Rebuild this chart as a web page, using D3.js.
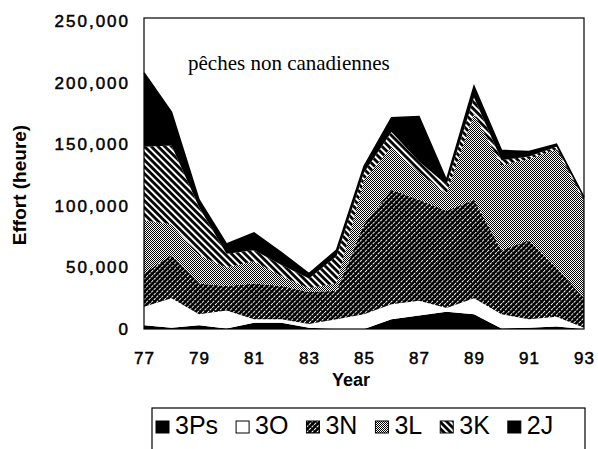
<!DOCTYPE html>
<html>
<head>
<meta charset="utf-8">
<script src="https://cdn.jsdelivr.net/npm/d3@7"></script>
<style>
  body { margin: 0; background: #fff; }
  text { font-family: "Liberation Sans", Arial, sans-serif; }
</style>
</head>
<body>
<div id="chart"></div>
<script>
var years = [77, 78, 79, 80, 81, 82, 83, 84, 85, 86, 87, 88, 89, 90, 91, 92, 93];
var zones = ["3Ps", "3O", "3N", "3L", "3K", "2J"];

// effort (heures) par division
var effort3Ps = [3000, 1000, 3000, 500, 5000, 5000, 1000, 0, 0, 8000, 11000, 14000, 12000, 500, 1000, 2000, 0];
var effort3O  = [15000, 24000, 9000, 14500, 3000, 3000, 3000, 8000, 12000, 12000, 12000, 3000, 13000, 11500, 7000, 8000, 1000];
var effort3N  = [27000, 35000, 25000, 20000, 29000, 27000, 26000, 23000, 73000, 93000, 82000, 79000, 80000, 52000, 64000, 40000, 24000];
var effort3L  = [43000, 25000, 23000, 15000, 18000, 8000, 3000, 6000, 36000, 35000, 22000, 14000, 70000, 69000, 66000, 96000, 79000];
var effort3K  = [60000, 64000, 39000, 11000, 9000, 9000, 8000, 22000, 6000, 12000, 9000, 7000, 13000, 4000, 2000, 2000, 2000];
var effort2J  = [60000, 27000, 6000, 8000, 14000, 10000, 4000, 5000, 5000, 11500, 36500, 4000, 9000, 8000, 4000, 2000, 1000];

var yTicks = [0, 50000, 100000, 150000, 200000, 250000];
var xTicks = [77, 79, 81, 83, 85, 87, 89, 91, 93];

var width = 598,
    height = 449;

var rows = years.map(function (yr, i) {
    return {year: yr, "3Ps": effort3Ps[i], "3O": effort3O[i], "3N": effort3N[i],
            "3L": effort3L[i], "3K": effort3K[i], "2J": effort2J[i]};
});

var svg = d3.select("#chart").append("svg")
    .attr("width", width)
    .attr("height", height);

var x = d3.scaleLinear().domain([77, 93]).range([144, 584]);
var y = d3.scaleLinear().domain([0, 250000]).range([329, 21]);

// motifs de remplissage
var defs = svg.append("defs");

var p3N = defs.append("pattern")
    .attr("id", "p3N")
    .attr("patternUnits", "userSpaceOnUse")
    .attr("width", 3.6).attr("height", 3.6)
    .attr("patternTransform", "rotate(45)");
p3N.append("rect").attr("width", 3.6).attr("height", 3.6).attr("fill", "#000");
p3N.append("rect").attr("x", 0).attr("width", 1).attr("height", 2.6).attr("fill", "#fff");

var p3L = defs.append("pattern")
    .attr("id", "p3L")
    .attr("patternUnits", "userSpaceOnUse")
    .attr("width", 2).attr("height", 2);
p3L.append("rect").attr("width", 2).attr("height", 2).attr("fill", "#fff");
p3L.append("rect").attr("width", 1).attr("height", 1).attr("fill", "#000");
p3L.append("rect").attr("x", 1).attr("y", 1).attr("width", 1).attr("height", 1).attr("fill", "#000");

var p3K = defs.append("pattern")
    .attr("id", "p3K")
    .attr("patternUnits", "userSpaceOnUse")
    .attr("width", 4.8).attr("height", 4.8)
    .attr("patternTransform", "rotate(-45)");
p3K.append("rect").attr("width", 4.8).attr("height", 4.8).attr("fill", "#000");
p3K.append("rect").attr("x", 0).attr("width", 2).attr("height", 4.8).attr("fill", "#fff");

var fills = {"3Ps": "#000", "3O": "#fff", "3N": "url(#p3N)", "3L": "url(#p3L)", "3K": "url(#p3K)", "2J": "#000"};

var series = d3.stack().keys(zones)(rows);

var area = d3.area()
    .x(function (d) { return x(d.data.year); })
    .y0(function (d) { return y(d[0]); })
    .y1(function (d) { return y(d[1]); });

svg.append("g").selectAll("path")
    .data(series)
    .enter().append("path")
    .attr("d", area)
    .attr("fill", function (d) { return fills[d.key]; });

// contour superieur
var topLine = d3.line()
    .x(function (d) { return x(d.data.year); })
    .y(function (d) { return y(d[1]); });
svg.append("path")
    .datum(series[series.length - 1])
    .attr("d", topLine)
    .attr("fill", "none")
    .attr("stroke", "#000")
    .attr("stroke-width", 1.5);

// cadre
svg.append("rect")
    .attr("x", 144).attr("y", 18)
    .attr("width", 440).attr("height", 311)
    .attr("fill", "none")
    .attr("stroke", "#000")
    .attr("stroke-width", 1.2);

// axes
var yAxis = svg.append("g")
    .attr("transform", "translate(144,0)")
    .call(d3.axisLeft(y).tickValues(yTicks).tickFormat(d3.format(",")).tickSize(0).tickPadding(14));
yAxis.select(".domain").remove();
yAxis.selectAll("text")
    .attr("font-family", "'Liberation Sans', Arial, sans-serif")
    .attr("font-size", 17)
    .attr("letter-spacing", 2)
    .attr("stroke", "#000")
    .attr("stroke-width", 0.5)
    .attr("fill", "#000");

var xAxis = svg.append("g")
    .attr("transform", "translate(0,329)")
    .call(d3.axisBottom(x).tickValues(xTicks).tickFormat(d3.format("d")).tickSize(0).tickPadding(23));
xAxis.select(".domain").remove();
xAxis.selectAll("text")
    .attr("font-family", "'Liberation Sans', Arial, sans-serif")
    .attr("font-size", 17)
    .attr("letter-spacing", 1)
    .attr("stroke", "#000")
    .attr("stroke-width", 0.5)
    .attr("fill", "#000");

svg.append("text")
    .attr("x", 351).attr("y", 386)
    .attr("text-anchor", "middle")
    .attr("font-size", 18)
    .attr("font-weight", "bold")
    .text("Year");

svg.append("text")
    .attr("transform", "translate(26,185) rotate(-90)")
    .attr("text-anchor", "middle")
    .attr("font-size", 19)
    .attr("font-weight", "bold")
    .text("Effort (heure)");

svg.append("text")
    .attr("x", 188).attr("y", 70)
    .style("font-family", "'Liberation Serif', 'Times New Roman', serif")
    .attr("font-size", 21)
    .text("pêches non canadiennes");

// legende
var legend = svg.append("g");
legend.append("rect")
    .attr("x", 152).attr("y", 408)
    .attr("width", 433).attr("height", 50)
    .attr("fill", "none")
    .attr("stroke", "#000")
    .attr("stroke-width", 1.2);

var cursor = 156;
zones.forEach(function (z) {
    legend.append("rect")
        .attr("x", cursor).attr("y", 421)
        .attr("width", 13).attr("height", 12)
        .attr("fill", fills[z])
        .attr("stroke", "#000")
        .attr("stroke-width", 1);
    var t = legend.append("text")
        .attr("x", cursor + 19).attr("y", 434)
        .attr("font-size", 25)
        .text(z);
    cursor += 19 + t.node().getComputedTextLength() + 18;
});
</script>
</body>
</html>
